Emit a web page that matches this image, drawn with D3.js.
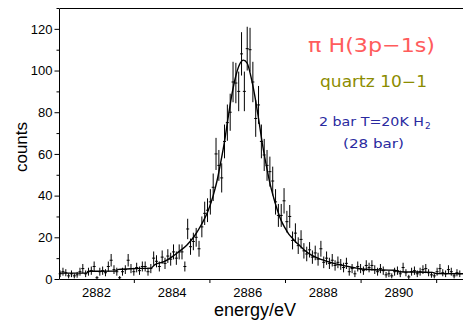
<!DOCTYPE html>
<html><head><meta charset="utf-8">
<script src="https://cdn.jsdelivr.net/npm/d3@7"></script>
<style>html,body{margin:0;padding:0;background:#fff;} svg{display:block;}</style>
</head><body><svg id="c" width="465" height="321"></svg>
<script>
// ---- data ----
const energies = [
2881.05,2881.125,2881.2,2881.275,2881.35,2881.425,2881.5,2881.575,2881.65,2881.725,
2881.8,2881.875,2881.95,2882.025,2882.1,2882.175,2882.25,2882.325,2882.4,2882.475,
2882.55,2882.625,2882.7,2882.775,2882.85,2882.925,2883,2883.075,2883.15,2883.225,
2883.3,2883.375,2883.45,2883.525,2883.6,2883.675,2883.75,2883.825,2883.9,2883.975,
2884.05,2884.125,2884.2,2884.275,2884.35,2884.425,2884.5,2884.575,2884.65,2884.725,
2884.8,2884.875,2884.95,2885.025,2885.1,2885.175,2885.25,2885.325,2885.4,2885.475,
2885.55,2885.625,2885.7,2885.775,2885.85,2885.925,2886,2886.075,2886.15,2886.225,
2886.3,2886.375,2886.45,2886.525,2886.6,2886.675,2886.75,2886.825,2886.9,2886.975,
2887.05,2887.125,2887.2,2887.275,2887.35,2887.425,2887.5,2887.575,2887.65,2887.725,
2887.8,2887.875,2887.95,2888.025,2888.1,2888.175,2888.25,2888.325,2888.4,2888.475,
2888.55,2888.625,2888.7,2888.775,2888.85,2888.925,2889,2889.075,2889.15,2889.225,
2889.3,2889.375,2889.45,2889.525,2889.6,2889.675,2889.75,2889.825,2889.9,2889.975,
2890.05,2890.125,2890.2,2890.275,2890.35,2890.425,2890.5,2890.575,2890.65,2890.725,
2890.8,2890.875,2890.95,2891.025,2891.1,2891.175,2891.25,2891.325,2891.4,2891.475,
2891.55,2891.625];
const counts = [
2.5,3.5,3,1.5,2.5,1.5,2,3.5,5,2.5,
3.5,4,6,0.6,3.5,4,3,6,9,4.5,
3.5,0.6,3.5,4.5,9,5,3.5,5.5,4,6,
6,3.5,5,10,8.5,6,10.5,7.5,11,9.5,
13,10,13,13,6,24,15.5,18,20,14.5,
25,31.5,33,37,44,60,54.5,48.5,66,75,
80,94.5,94,90,108,90,110.5,110,94.5,77,
83.5,66,59.5,54.5,51.5,47,37,30.5,30.5,37.5,
27.5,30,18.5,22,16,19,13.5,12,14,10.5,
12.5,9.5,14.5,8,10,7.5,9,6.5,8,7,
5.5,7.5,3.5,5,2.5,6,5,4,6.5,5.5,
6.5,4.5,3.5,5,4,2,2.5,1.5,3.5,4,
2.5,5.5,3,1,3.5,4,2.5,3.5,4.5,5,
3,2,1.5,3.5,5,3,2.5,4.5,3.5,1.5,
3,2.5];
const errors = [
1.6,1.9,1.7,1.2,1.6,1.2,1.4,1.9,2.2,1.6,
1.9,2.0,2.4,0.8,1.9,2.0,1.7,2.4,3.0,2.1,
1.9,0.8,1.9,2.1,3.0,2.2,1.9,2.3,2.0,2.4,
2.4,1.9,2.2,3.2,2.9,2.4,3.2,2.7,3.3,3.1,
3.6,3.2,3.6,3.6,2.4,4.9,3.9,4.2,4.5,3.8,
5.0,5.6,5.7,6.1,6.6,7.7,7.4,7.0,8.1,8.7,
8.9,9.7,9.7,9.5,10.4,9.5,10.5,10.5,9.7,8.8,
9.1,8.1,7.7,7.4,7.2,6.9,6.1,5.5,5.5,6.1,
5.2,5.5,4.3,4.7,4.0,4.4,3.7,3.5,3.7,3.2,
3.5,3.1,3.8,2.8,3.2,2.7,3.0,2.5,2.8,2.6,
2.3,2.7,1.9,2.2,1.6,2.4,2.2,2.0,2.5,2.3,
2.5,2.1,1.9,2.2,2.0,1.4,1.6,1.2,1.9,2.0,
1.6,2.3,1.7,1.0,1.9,2.0,1.6,1.9,2.1,2.2,
1.7,1.4,1.2,1.9,2.2,1.7,1.6,2.1,1.9,1.2,
1.7,1.6];
const fitEnergies = [2881.02,2881.75,2881.8,2882.5,2882.6,2883.0,2883.45,2883.55,2883.8,2884.0,
2884.2,2884.4,2884.6,2884.8,2884.95,2885.1,2885.2,2885.3,2885.4,2885.5,
2885.6,2885.7,2885.8,2885.9,2886.0,2886.1,2886.2,2886.3,2886.4,2886.5,
2886.6,2886.7,2886.8,2886.9,2887.0,2887.1,2887.2,2887.3,2887.4,2887.5,
2887.7,2887.9,2888.2,2888.55,2888.9,2889.0,2889.6,2889.9,2890.0,2890.9,2891.0,2891.71];
const fitCounts = [2.8,2.8,3.7,3.8,4.6,5.0,5.2,6.8,8.3,10.5,
13.2,16.2,20.5,26.5,32,40,47,56,66,78,
89,97.5,103,105,103.5,97,88,77,65,55,
46,39,33,28,24.5,21.5,19.5,17.5,15.8,14,
11.5,9.8,8,6.4,5.2,4.8,4.3,4.2,3.5,3.2,2.6,2.5];
const xTickLabels = [2882,2884,2886,2888,2890];
const xMinorTicks = [2883,2885,2887,2889,2891];
const yTickLabels = [0,20,40,60,80,100,120];
const yMinorTicks = [10,30,50,70,90,110,130];

// ---- drawing ----
const svg = d3.select("#c");
const L = 59, R = 463, T = 8, B = 279;
const x = d3.scaleLinear().domain([2881.02, 2891.71]).range([L, R]);
const y = d3.scaleLinear().domain([0, 130]).range([B, T]);
const font = "'Liberation Sans', Arial, sans-serif";

// y axis ticks (outward)
const yAx = svg.append("g").attr("transform", `translate(${L},0)`)
  .call(d3.axisLeft(y).tickValues(yTickLabels).tickSize(4.5).tickPadding(2).tickFormat(d3.format("d")));
yAx.select(".domain").remove();
yAx.selectAll("line").attr("stroke", "#000");
yAx.selectAll("text").attr("font-family", font).attr("font-size", 13).attr("fill", "#000");
svg.append("g").attr("transform", `translate(${L},0)`)
  .call(d3.axisLeft(y).tickValues(yMinorTicks.filter(v => v <= 130)).tickSize(2.5).tickFormat(""))
  .call(g => g.select(".domain").remove());

// x axis: labels at even, ticks at odd
const xAx = svg.append("g").attr("transform", `translate(0,${B})`)
  .call(d3.axisBottom(x).tickValues(xTickLabels).tickSize(0).tickPadding(9).tickFormat(d3.format("d")));
xAx.select(".domain").remove();
xAx.selectAll("text").attr("font-family", font).attr("font-size", 13).attr("fill", "#000");
svg.append("g").attr("transform", `translate(0,${B})`)
  .call(d3.axisBottom(x).tickValues(xMinorTicks).tickSize(4).tickFormat(""))
  .call(g => g.select(".domain").remove());

// frame: left, top, bottom (no right edge)
svg.append("path")
  .attr("d", `M${R},${T + 0.5}H${L + 0.5}V${B + 0.5}H${R}`)
  .attr("fill", "none").attr("stroke", "#000").attr("stroke-width", 1);

// data points with error bars
const pts = energies.map((e, i) => ({ e, c: counts[i], s: errors[i] }));
const gp = svg.append("g").attr("stroke", "#000").attr("stroke-width", 1);
gp.selectAll("line.eb").data(pts).join("line").attr("class", "eb")
  .attr("x1", d => x(d.e)).attr("x2", d => x(d.e))
  .attr("y1", d => y(Math.max(0, d.c - d.s))).attr("y2", d => y(d.c + d.s));
gp.selectAll("line.mk").data(pts).join("line").attr("class", "mk")
  .attr("x1", d => x(d.e) - 1.5).attr("x2", d => x(d.e) + 1.5)
  .attr("y1", d => y(d.c)).attr("y2", d => y(d.c));

// fit curve
const fit = fitEnergies.map((e, i) => [e, fitCounts[i]]);
svg.append("path").datum(fit)
  .attr("d", d3.line().x(d => x(d[0])).y(d => y(d[1])).curve(d3.curveMonotoneX))
  .attr("fill", "none").attr("stroke", "#000").attr("stroke-width", 1.4);

// axis titles
svg.append("text").attr("transform", "translate(27,147) rotate(-90)")
  .attr("text-anchor", "middle").attr("font-family", font).attr("font-size", 17).text("counts");
svg.append("text").attr("x", 255).attr("y", 316).attr("text-anchor", "middle")
  .attr("font-family", font).attr("font-size", 18).text("energy/eV");

// annotations
const af = "'DejaVu Sans', sans-serif";
svg.append("text").attr("x", 308).attr("y", 52).attr("font-family", af)
  .attr("font-size", 20).attr("fill", "#ff5c5c").attr("textLength", 127).attr("lengthAdjust", "spacingAndGlyphs")
  .text("π H(3p−1s)");
svg.append("text").attr("x", 320).attr("y", 87).attr("font-family", af)
  .attr("font-size", 15).attr("fill", "#8c8c00").attr("textLength", 107).attr("lengthAdjust", "spacingAndGlyphs")
  .text("quartz 10−1");
svg.append("text").attr("x", 319).attr("y", 126).attr("font-family", af)
  .attr("font-size", 13).attr("fill", "#2a2aa0").attr("textLength", 105).attr("lengthAdjust", "spacingAndGlyphs")
  .text("2 bar T=20K H");
svg.append("text").attr("x", 425).attr("y", 129).attr("font-family", af)
  .attr("font-size", 9).attr("fill", "#2a2aa0").text("2");
svg.append("text").attr("x", 343).attr("y", 148).attr("font-family", af)
  .attr("font-size", 13).attr("fill", "#2a2aa0").attr("textLength", 61).attr("lengthAdjust", "spacingAndGlyphs")
  .text("(28 bar)");
</script></body></html>
